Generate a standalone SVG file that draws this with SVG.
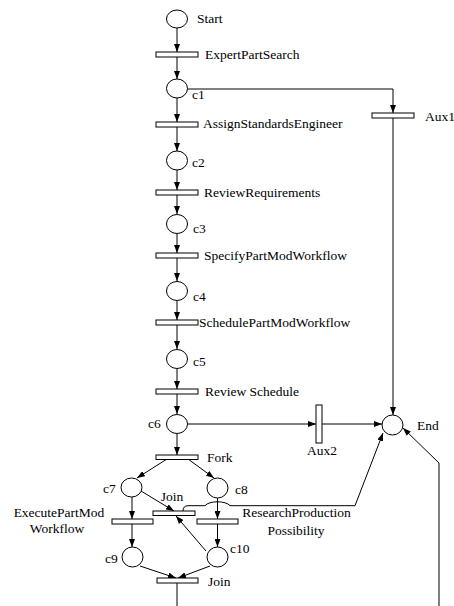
<svg xmlns="http://www.w3.org/2000/svg" width="454" height="606" viewBox="0 0 454 606">
<style>
.pl{fill:#fff;stroke:#000;stroke-width:1}
.tr{fill:#fff;stroke:#000;stroke-width:1}
.t{font-family:"Liberation Serif","Times New Roman",serif;font-size:13.5px;fill:#000}
.e{fill:none;stroke:#000;stroke-width:1}
</style>
<defs>
<marker id="a" markerUnits="userSpaceOnUse" markerWidth="8" markerHeight="6" refX="8" refY="3" orient="auto">
<path d="M0,0 L8,3 L0,6 z" fill="#000"/>
</marker>
</defs>
<rect width="454" height="606" fill="#fff"/>
<g id="edges">
<path class="e" d="M177,28 V52" marker-end="url(#a)"/>
<path class="e" d="M177,57 V79" marker-end="url(#a)"/>
<path class="e" d="M177,98 V122" marker-end="url(#a)"/>
<path class="e" d="M177,127 V151" marker-end="url(#a)"/>
<path class="e" d="M177,170 V190" marker-end="url(#a)"/>
<path class="e" d="M177,195 V214" marker-end="url(#a)"/>
<path class="e" d="M177,234 V253" marker-end="url(#a)"/>
<path class="e" d="M177,258 V281" marker-end="url(#a)"/>
<path class="e" d="M177,301 V320" marker-end="url(#a)"/>
<path class="e" d="M177,325 V349" marker-end="url(#a)"/>
<path class="e" d="M177,369 V389" marker-end="url(#a)"/>
<path class="e" d="M177,394 V414" marker-end="url(#a)"/>
<path class="e" d="M177,434 V455" marker-end="url(#a)"/>
<path class="e" d="M187.5,89 H393 V113" marker-end="url(#a)"/>
<path class="e" d="M393,118 V415" marker-end="url(#a)"/>
<path class="e" d="M188,424 H316" marker-end="url(#a)"/>
<path class="e" d="M322,424 H382" marker-end="url(#a)"/>
<path class="e" d="M167,459 L137,478" marker-end="url(#a)"/>
<path class="e" d="M188,459 L214,478" marker-end="url(#a)"/>
<path class="e" d="M132,497 V519" marker-end="url(#a)"/>
<path class="e" d="M132,524 V547" marker-end="url(#a)"/>
<path class="e" d="M217.5,498 V519" marker-end="url(#a)"/>
<path class="e" d="M217.5,524 V547" marker-end="url(#a)"/>
<path class="e" d="M141,491 L174,511" marker-end="url(#a)"/>
<path class="e" d="M206,551 L176,516" marker-end="url(#a)"/>
<path class="e" d="M140,566 L176,578" marker-end="url(#a)"/>
<path class="e" d="M210,566 L178,578" marker-end="url(#a)"/>
<path class="e" d="M177,583 V606"/>
<path class="e" d="M183,511 Q183,505.7 188,505.7 H205 C209,500.5 226,500.5 230,505.7 H355 L383,433" marker-end="url(#a)"/>
<path class="e" d="M439,606 V463 L403,428" marker-end="url(#a)"/>
</g>
<g id="Start"><ellipse class="pl" cx="177" cy="19" rx="10.5" ry="9"/><text class="t" x="197" y="23">Start</text></g>
<g id="ExpertPartSearch"><rect class="tr" x="156" y="52" width="42" height="5"/><text class="t" x="205" y="59">ExpertPartSearch</text></g>
<g id="c1"><ellipse class="pl" cx="177" cy="88.5" rx="10.5" ry="9.5"/><text class="t" x="192" y="99">c1</text></g>
<g id="Aux1"><rect class="tr" x="372" y="113" width="42" height="5"/><text class="t" x="425" y="121">Aux1</text></g>
<g id="AssignStandardsEngineer"><rect class="tr" x="156" y="122" width="42" height="5"/><text class="t" x="203" y="128">AssignStandardsEngineer</text></g>
<g id="c2"><ellipse class="pl" cx="177" cy="160.5" rx="10.5" ry="9.5"/><text class="t" x="192" y="167">c2</text></g>
<g id="ReviewRequirements"><rect class="tr" x="156" y="190" width="42" height="5"/><text class="t" x="204" y="197">ReviewRequirements</text></g>
<g id="c3"><ellipse class="pl" cx="177" cy="224" rx="10.5" ry="9.5"/><text class="t" x="193" y="233">c3</text></g>
<g id="SpecifyPartModWorkflow"><rect class="tr" x="156" y="253" width="42" height="5"/><text class="t" x="204" y="260">SpecifyPartModWorkflow</text></g>
<g id="c4"><ellipse class="pl" cx="177" cy="291" rx="10.5" ry="9.5"/><text class="t" x="193" y="301">c4</text></g>
<g id="SchedulePartModWorkflow"><rect class="tr" x="156" y="320" width="42" height="5"/><text class="t" x="199" y="327">SchedulePartModWorkflow</text></g>
<g id="c5"><ellipse class="pl" cx="177" cy="359" rx="10.5" ry="9.5"/><text class="t" x="193" y="366">c5</text></g>
<g id="ReviewSchedule"><rect class="tr" x="156" y="389" width="42" height="5"/><text class="t" x="205" y="396">Review Schedule</text></g>
<g id="c6"><ellipse class="pl" cx="177" cy="424" rx="10.5" ry="9.5"/><text class="t" x="148" y="428">c6</text></g>
<g id="Aux2"><rect class="tr" x="316" y="405" width="6" height="38"/><text class="t" x="307" y="455">Aux2</text></g>
<g id="End"><ellipse class="pl" cx="392.5" cy="425" rx="10.5" ry="10"/><text class="t" x="417" y="430">End</text></g>
<g id="Fork"><rect class="tr" x="156" y="455" width="42" height="4.5"/><text class="t" x="207" y="462">Fork</text></g>
<g id="c7"><ellipse class="pl" cx="131.5" cy="487.5" rx="10.5" ry="9.5"/><text class="t" x="103" y="493">c7</text></g>
<g id="c8"><ellipse class="pl" cx="217.5" cy="488" rx="10.5" ry="10"/><text class="t" x="235" y="494">c8</text></g>
<g id="JoinMid"><rect class="tr" x="153" y="511" width="42" height="4.5"/><text class="t" x="172" y="501" text-anchor="middle">Join</text></g>
<g id="ExecutePartModWorkflow"><rect class="tr" x="112" y="519" width="41" height="5"/><text class="t" x="59" y="517" text-anchor="middle">ExecutePartMod</text><text class="t" x="57" y="533" text-anchor="middle">Workflow</text></g>
<g id="ResearchProductionPossibility"><rect class="tr" x="197" y="519" width="41" height="5"/><text class="t" x="296.5" y="517" text-anchor="middle">ResearchProduction</text><text class="t" x="296" y="535" text-anchor="middle">Possibility</text></g>
<g id="c9"><ellipse class="pl" cx="132.5" cy="557" rx="10.5" ry="10"/><text class="t" x="105" y="563">c9</text></g>
<g id="c10"><ellipse class="pl" cx="217.5" cy="557" rx="10.5" ry="10"/><text class="t" x="230" y="553">c10</text></g>
<g id="JoinEnd"><rect class="tr" x="157" y="578" width="41" height="5"/><text class="t" x="208" y="586">Join</text></g>
</svg>
